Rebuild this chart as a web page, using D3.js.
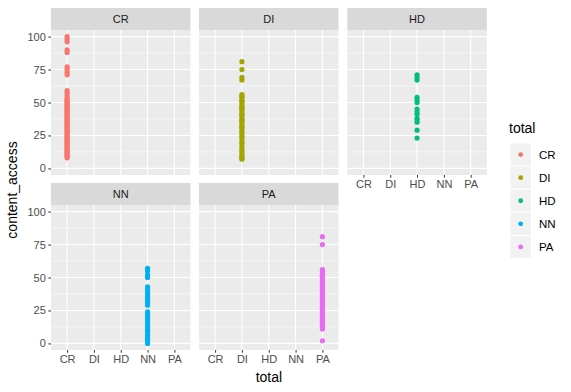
<!DOCTYPE html>
<html>
<head>
<meta charset="utf-8">
<script src="https://cdn.jsdelivr.net/npm/d3@7"></script>
<style>
  body { margin: 0; background: #fff; }
  text { font-family: "Liberation Sans", Arial, sans-serif; }
</style>
</head>
<body>
<div id="chart"></div>
<script>
// categories (facet + x) and colours
var categories = ["CR", "DI", "HD", "NN", "PA"];
var colors = ["#F8766D", "#A3A500", "#00BF7D", "#00B0F6", "#E76BF3"];
var yTicks = [0, 25, 50, 75, 100];

// content_access values
var crValues = [100, 98, 96, 90, 88, 77, 75, 73, 71, 59, 57, 55, 53, 52, 51, 50, 49, 48, 47, 46, 45, 44, 43, 42, 41, 40,
  39, 38, 37, 36, 35, 34, 33, 32, 31, 30, 29, 28, 27, 26, 25, 24, 23, 22, 21, 20, 19, 18, 17, 16, 15, 14, 13, 12, 11, 10, 9, 8];
var diValues = [81, 75, 69, 67, 56, 55, 54, 52, 51, 50, 48, 47, 46, 45, 44, 42, 41, 40, 38, 37, 36, 35, 33, 32, 31, 30,
  28, 27, 25, 24, 22, 20, 19, 17, 15, 13, 12, 10, 9, 8, 7];
var hdValues = [71, 69, 67, 54, 52, 50, 45, 43, 41, 38, 37, 35, 29, 23];
var nnValues = [57, 55, 52, 50, 43, 41, 39, 37, 35, 33, 31, 29, 24, 22, 20, 18, 16, 14, 12, 10, 8, 6, 4, 2, 0];
var paValues = [81, 75, 56, 55, 53, 52, 51, 50, 48, 47, 46, 45, 43, 42, 41, 40, 38, 37, 36, 35, 33, 32, 31, 30,
  28, 27, 26, 25, 23, 22, 21, 20, 18, 17, 16, 15, 13, 12, 11, 2];

var seriesValues = [crValues, diValues, hdValues, nnValues, paValues];

var width = 571, height = 392;
var svg = d3.select("#chart").append("svg")
  .attr("width", width).attr("height", height);

var panelW = 139.5, panelH = 145, stripH = 22;
var colX = [51, 199, 347.3];
var rowY = [30, 205]; // panel tops (strip sits above)

var color = d3.scaleOrdinal().domain(categories).range(colors);

var x = d3.scalePoint().domain(categories).range([0, panelW]).padding(0.6);
var y = d3.scaleLinear().domain([-5, 105]).range([panelH, 0]);

categories.forEach(function(cat, i) {
  var col = i % 3, row = Math.floor(i / 3);
  var g = svg.append("g").attr("transform", "translate(" + colX[col] + "," + rowY[row] + ")");

  // strip
  g.append("rect").attr("x", 0).attr("y", -stripH).attr("width", panelW).attr("height", stripH)
    .attr("fill", "#D9D9D9");
  g.append("text").attr("x", panelW / 2).attr("y", -stripH / 2).attr("dy", "0.35em")
    .attr("text-anchor", "middle").attr("font-size", "11px").attr("fill", "#1A1A1A").text(cat);

  // panel background
  g.append("rect").attr("width", panelW).attr("height", panelH).attr("fill", "#EBEBEB");

  // minor grid
  [12.5, 37.5, 62.5, 87.5].forEach(function(v) {
    g.append("line").attr("x1", 0).attr("x2", panelW).attr("y1", y(v)).attr("y2", y(v))
      .attr("stroke", "#fff").attr("stroke-width", 0.55);
  });
  // major grid
  yTicks.forEach(function(v) {
    g.append("line").attr("x1", 0).attr("x2", panelW).attr("y1", y(v)).attr("y2", y(v))
      .attr("stroke", "#fff").attr("stroke-width", 1.1);
  });
  categories.forEach(function(c) {
    g.append("line").attr("x1", x(c)).attr("x2", x(c)).attr("y1", 0).attr("y2", panelH)
      .attr("stroke", "#fff").attr("stroke-width", 1.1);
  });

  // points
  g.selectAll("circle.pt").data(seriesValues[i]).enter()
    .append("circle").attr("class", "pt")
    .attr("cx", x(cat)).attr("cy", function(d) { return y(d); })
    .attr("r", 2.6).attr("fill", color(cat));

  // y axis on first column
  if (col === 0) {
    var ya = g.append("g").call(d3.axisLeft(y).tickValues(yTicks).tickSize(2.7).tickPadding(2.5));
    ya.select(".domain").remove();
    ya.selectAll("line").attr("stroke", "#333333");
    ya.selectAll("text").attr("font-size", "11px").attr("fill", "#4D4D4D")
      .style("font-family", "Liberation Sans, Arial, sans-serif");
  }
  // x axis on bottom panel of each column
  if (row === 1 || col === 2) {
    var xa = g.append("g").attr("transform", "translate(0," + panelH + ")")
      .call(d3.axisBottom(x).tickSize(2.7).tickPadding(2.5));
    xa.select(".domain").remove();
    xa.selectAll("line").attr("stroke", "#333333");
    xa.selectAll("text").attr("font-size", "11px").attr("fill", "#4D4D4D")
      .style("font-family", "Liberation Sans, Arial, sans-serif");
  }
});

// axis titles
svg.append("text").attr("x", (colX[0] + colX[2] + panelW) / 2).attr("y", 382)
  .attr("text-anchor", "middle").attr("font-size", "14px").attr("fill", "#000").text("total");
svg.append("text").attr("transform", "translate(17," + (rowY[0] + rowY[1] + panelH) / 2 + ") rotate(-90)")
  .attr("text-anchor", "middle").attr("font-size", "14px").attr("fill", "#000").text("content_access");

// legend
var legend = svg.append("g").attr("transform", "translate(509,0)");
legend.append("text").attr("x", 0).attr("y", 133).attr("font-size", "14px").attr("fill", "#000").text("total");
var keyH = 23.1;
var keys = legend.selectAll("g.key").data(categories).enter().append("g").attr("class", "key")
  .attr("transform", function(d, i) { return "translate(0," + (143 + i * keyH) + ")"; });
keys.append("rect").attr("x", 1).attr("y", 0).attr("width", 21.5).attr("height", keyH)
  .attr("fill", "#F2F2F2").attr("stroke", "#fff").attr("stroke-width", 1);
keys.append("circle").attr("cx", 11.7).attr("cy", keyH / 2).attr("r", 2.4)
  .attr("fill", function(d) { return color(d); });
keys.append("text").attr("x", 30).attr("y", keyH / 2).attr("dy", "0.35em")
  .attr("font-size", "11.5px").attr("fill", "#000").text(function(d) { return d; });
</script>
</body>
</html>
